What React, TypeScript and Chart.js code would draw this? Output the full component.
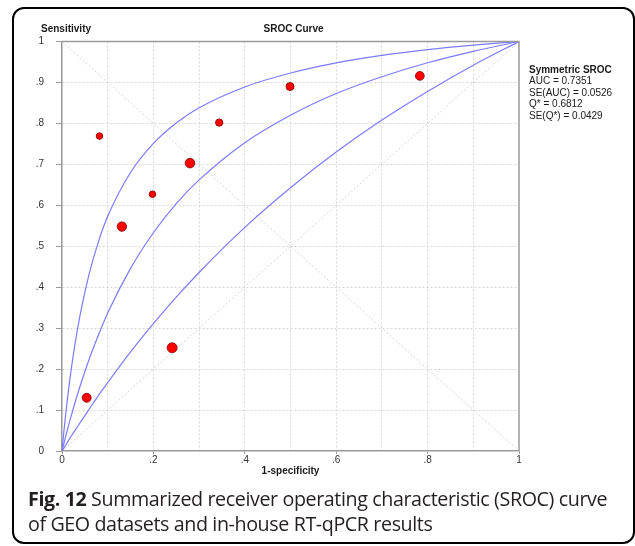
import React, { useEffect, useRef } from 'react';
import { Chart, registerables } from 'chart.js';

Chart.register(...registerables);

// ---- Data ----
const studyFpr = [0.082, 0.344, 0.280, 0.198, 0.131, 0.241, 0.054, 0.499, 0.783];
const studySens = [0.769, 0.802, 0.703, 0.627, 0.548, 0.252, 0.130, 0.890, 0.916];
const studyWeights = [3.3, 3.7, 4.8, 3.3, 4.7, 5.0, 4.5, 4.0, 4.4];

const curveFpr = [0, 0.005, 0.01, 0.02, 0.03, 0.04, 0.06, 0.08, 0.1, 0.15, 0.2, 0.25, 0.3, 0.4, 0.5, 0.6, 0.7, 0.8, 0.9, 1];
const upperSens = [0, 0.057, 0.109, 0.198, 0.272, 0.334, 0.435, 0.512, 0.573, 0.680, 0.751, 0.801, 0.838, 0.889, 0.923, 0.948, 0.966, 0.980, 0.991, 1];
const srocSens = [0, 0.022, 0.044, 0.085, 0.124, 0.160, 0.226, 0.284, 0.337, 0.446, 0.533, 0.604, 0.662, 0.753, 0.820, 0.873, 0.914, 0.948, 0.976, 1];
const lowerSens = [0, 0.009, 0.018, 0.036, 0.053, 0.070, 0.103, 0.136, 0.167, 0.242, 0.311, 0.376, 0.436, 0.546, 0.643, 0.730, 0.808, 0.878, 0.942, 1];

const diagFpr = [0, 1];
const diagRising = [0, 1];
const diagFalling = [1, 0];

const xTickValues = [0, 0.2, 0.4, 0.6, 0.8, 1];
const xTickLabels = ['0', '.2', '.4', '.6', '.8', '1'];
const yTickValues = [0, 0.1, 0.2, 0.3, 0.4, 0.5, 0.6, 0.7, 0.8, 0.9, 1];
const yTickLabels = ['0', '.1', '.2', '.3', '.4', '.5', '.6', '.7', '.8', '.9', '1'];

const chartTitle = 'SROC Curve';
const yAxisTitle = 'Sensitivity';
const xAxisTitle = '1-specificity';
const statsHeader = 'Symmetric SROC';
const statsLines = ['AUC = 0.7351', 'SE(AUC) = 0.0526', 'Q* = 0.6812', 'SE(Q*) = 0.0429'];

const captionLabel = 'Fig. 12';
const captionLine1 = 'Summarized receiver operating characteristic (SROC) curve';
const captionLine2 = 'of GEO datasets and in-house RT-qPCR results';

const FONT = '"Liberation Sans", Arial, sans-serif';

function labelFor(values: number[], labels: string[], v: number): string {
  const i = values.findIndex((t) => Math.abs(t - v) < 1e-6);
  return i >= 0 ? labels[i] : '';
}

const pts = (xs: number[], ys: number[]) => xs.map((x, i) => ({ x, y: ys[i] }));

const decorPlugin = {
  id: 'decor',
  afterDraw(chart: any) {
    const { ctx, chartArea } = chart;
    const { left, right, top, bottom } = chartArea;
    ctx.save();
    ctx.strokeStyle = '#9a9a9a';
    ctx.lineWidth = 1.5;
    ctx.beginPath();
    ctx.moveTo(left, top);
    ctx.lineTo(right, top);
    ctx.lineTo(right, bottom);
    ctx.stroke();

    ctx.fillStyle = '#1a1a1a';
    ctx.textBaseline = 'middle';
    ctx.font = `bold 10px ${FONT}`;
    ctx.textAlign = 'left';
    ctx.fillText(yAxisTitle, left - 21, top - 12.5);
    ctx.textAlign = 'center';
    ctx.fillText(chartTitle, (left + right) / 2 + 3, top - 12.5);

    ctx.textAlign = 'left';
    const lx = right + 10;
    ctx.font = `bold 10px ${FONT}`;
    ctx.fillText(statsHeader, lx, top + 28.5);
    ctx.font = `10px ${FONT}`;
    statsLines.forEach((s, i) => ctx.fillText(s, lx, top + 40 + i * 11.5));
    ctx.restore();
  },
};

export default function App() {
  const ref = useRef<HTMLCanvasElement | null>(null);

  useEffect(() => {
    if (!ref.current) return;
    const curveStyle = {
      type: 'line',
      borderColor: '#7b7bff',
      borderWidth: 1.2,
      pointRadius: 0,
      cubicInterpolationMode: 'monotone',
      order: 3,
    };
    const diagStyle = {
      type: 'line',
      borderColor: '#d4d4d4',
      borderWidth: 1,
      borderDash: [2, 2],
      pointRadius: 0,
      order: 5,
    };
    const chart = new Chart(ref.current, {
      type: 'scatter',
      data: {
        datasets: [
          { ...diagStyle, data: pts(diagFpr, diagRising) },
          { ...diagStyle, data: pts(diagFpr, diagFalling) },
          { ...curveStyle, data: pts(curveFpr, upperSens) },
          { ...curveStyle, data: pts(curveFpr, srocSens) },
          { ...curveStyle, data: pts(curveFpr, lowerSens) },
          {
            type: 'scatter',
            data: pts(studyFpr, studySens),
            backgroundColor: '#ff0000',
            borderColor: '#7a0000',
            borderWidth: 0.8,
            pointRadius: studyWeights,
            order: 1,
          },
        ],
      } as any,
      options: {
        animation: false,
        responsive: false,
        events: [],
        layout: { padding: { left: 32, top: 41.5, right: 116, bottom: 69 } },
        plugins: { legend: { display: false }, tooltip: { enabled: false }, title: { display: false } },
        scales: {
          x: {
            type: 'linear',
            min: 0,
            max: 1,
            afterFit: (s: any) => { s.height = 26; },
            ticks: {
              stepSize: 0.1,
              autoSkip: false,
              maxRotation: 0,
              padding: 0,
              color: '#333',
              font: { family: FONT, size: 10 },
              callback: (v: any) => labelFor(xTickValues, xTickLabels, Number(v)),
            },
            grid: {
              color: (c: any) => (c.tick && (c.tick.value === 0 || c.tick.value === 1) ? 'rgba(0,0,0,0)' : '#d6d6d6'),
              lineWidth: 1,
              tickLength: 3,
              tickColor: (c: any) => (c.tick && labelFor(xTickValues, xTickLabels, c.tick.value) ? '#9a9a9a' : 'rgba(0,0,0,0)'),
            },
            border: { color: '#9a9a9a', width: 1.5, dash: [2, 2] },
            title: {
              display: true,
              text: xAxisTitle,
              color: '#1a1a1a',
              font: { family: FONT, size: 10, weight: 'bold' },
              padding: { top: 0, bottom: 0 },
            },
          },
          y: {
            type: 'linear',
            min: 0,
            max: 1,
            afterFit: (s: any) => { s.width = 30; },
            ticks: {
              stepSize: 0.1,
              autoSkip: false,
              padding: 12,
              color: '#333',
              font: { family: FONT, size: 10 },
              callback: (v: any) => labelFor(yTickValues, yTickLabels, Number(v)),
            },
            grid: {
              color: (c: any) => (c.tick && (c.tick.value === 0 || c.tick.value === 1) ? 'rgba(0,0,0,0)' : '#d6d6d6'),
              lineWidth: 1,
              tickLength: 6,
              tickColor: '#9a9a9a',
            },
            border: { color: '#9a9a9a', width: 1.5, dash: [2, 2] },
          },
        },
      } as any,
      plugins: [decorPlugin],
    });
    return () => chart.destroy();
  }, []);

  return (
    <div style={{ position: 'absolute', left: 0, top: 0, width: 635, height: 546, background: '#fff', overflow: 'hidden' }}>
      <div
        style={{
          position: 'absolute',
          left: 12,
          top: 7,
          width: 623,
          height: 537,
          boxSizing: 'border-box',
          border: '2px solid #000',
          borderRadius: 12,
        }}
      />
      <canvas ref={ref} width={635} height={546} style={{ position: 'absolute', left: 0, top: 0, width: 635, height: 546 }} />
      <div
        style={{
          position: 'absolute',
          left: 28,
          top: 486,
          width: 600,
          whiteSpace: 'nowrap',
          fontFamily: '"Open Sans", "Noto Sans", sans-serif',
          fontSize: 19.7,
          lineHeight: '25px',
          color: '#231f20',
          letterSpacing: -0.4,
        }}
      >
        <b>{captionLabel}</b> {captionLine1}
        <br />
        {captionLine2}
      </div>
    </div>
  );
}
